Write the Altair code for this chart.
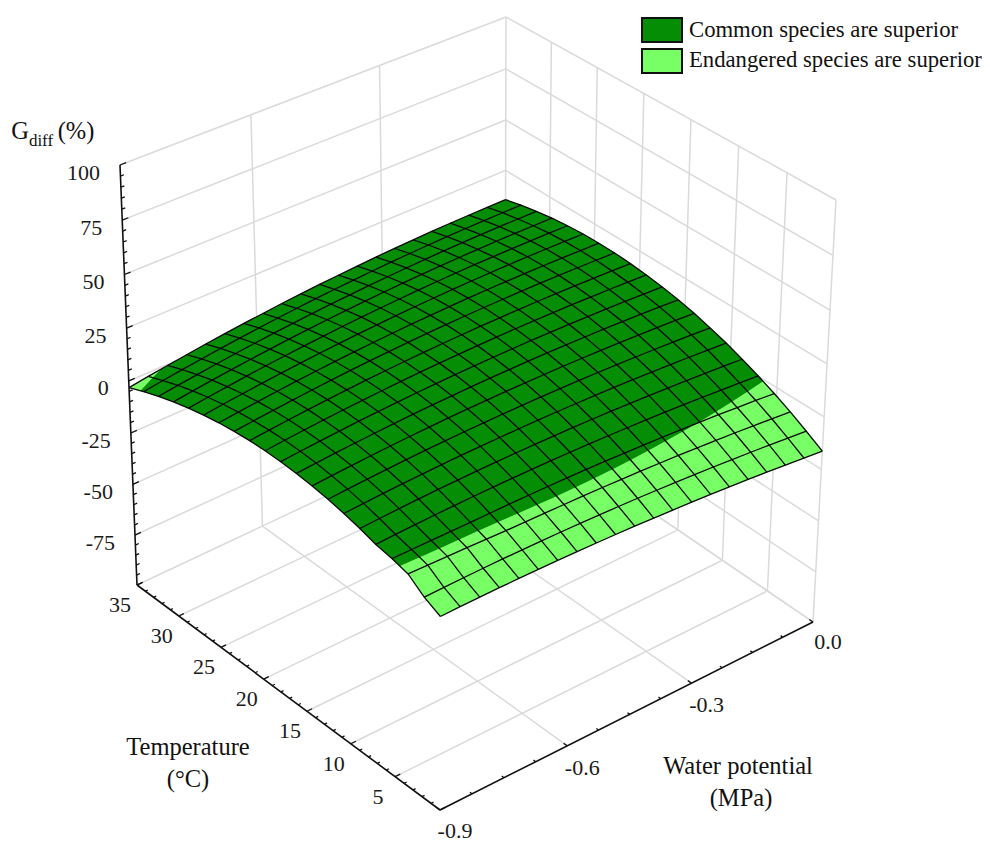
import altair as alt
import numpy as np
import pandas as pd

# ---- values -----------------------------------------------------------------
TEMPS = [35, 33.25, 31.5, 29.75, 28, 26.25, 24.5, 22.75, 21, 19.25, 17.5,
         15.75, 14, 12.25, 10.5, 8.75, 7, 5.25, 3.5, 1.75, 0]
POTENTIALS = [-0.9, -0.855, -0.81, -0.765, -0.72, -0.675, -0.63, -0.585, -0.54, -0.495, -0.45,
              -0.405, -0.36, -0.315, -0.27, -0.225, -0.18, -0.135, -0.09, -0.045, 0.0]
GDIFF = [
 [-6.2,-4.8,-3.5,-2.3,-1.1,0,1,1.9,2.8,3.6,4.3,4.9,5.5,6,6.4,6.7,7,7.2,7.3,7.3,7.3],
 [-3.3,-1.97,-.72,.46,1.57,2.6,3.56,4.45,5.26,6,6.67,7.26,7.78,8.23,8.6,8.9,9.13,9.28,9.36,9.37,9.3],
 [-.75,.52,1.72,2.85,3.9,4.89,5.8,6.63,7.39,8.08,8.7,9.24,9.71,10.11,10.43,10.68,10.86,10.97,11,10.96,10.85],
 [1.46,2.68,3.83,4.9,5.91,6.84,7.7,8.48,9.2,9.84,10.41,10.91,11.34,11.69,11.97,12.18,12.32,12.39,12.38,12.31,12.16],
 [3.32,4.49,5.59,6.61,7.57,8.45,9.26,10,10.67,11.27,11.79,12.25,12.63,12.94,13.18,13.35,13.44,13.47,13.42,13.31,13.12],
 [4.83,5.95,6.99,7.96,8.87,9.7,10.46,11.15,11.77,12.32,12.8,13.21,13.55,13.82,14.02,14.15,14.2,14.19,14.11,13.95,13.73],
 [6,7.06,8.05,8.97,9.82,10.6,11.31,11.95,12.52,13.02,13.45,13.81,14.1,14.32,14.47,14.55,14.56,14.5,14.37,14.17,13.9],
 [6.81,7.82,8.75,9.62,10.42,11.15,11.81,12.4,12.92,13.38,13.76,14.08,14.33,14.51,14.62,14.66,14.63,14.53,14.36,14.13,13.82],
 [7.28,8.23,9.11,9.93,10.67,11.35,11.96,12.5,12.97,13.37,13.71,13.97,14.17,14.3,14.36,14.35,14.28,14.13,13.92,13.64,13.29],
 [7.4,8.3,9.12,9.89,10.58,11.21,11.77,12.26,12.68,13.04,13.33,13.55,13.71,13.79,13.81,13.76,13.65,13.46,13.21,12.89,12.5],
 [7.18,8.02,8.8,9.51,10.16,10.73,11.24,11.69,12.06,12.37,12.62,12.79,12.9,12.95,12.92,12.83,12.68,12.45,12.16,11.8,11.38],
 [6.6,7.39,8.12,8.78,9.37,9.9,10.36,10.76,11.09,11.35,11.55,11.68,11.75,11.75,11.68,11.55,11.35,11.09,10.76,10.36,9.9],
 [5.68,6.42,7.09,7.7,8.24,8.72,9.13,9.48,9.76,9.98,10.13,10.22,10.24,10.2,10.09,9.92,9.68,9.38,9.01,8.58,8.08],
 [4.41,5.09,5.71,6.26,6.75,7.18,7.54,7.84,8.07,8.24,8.34,8.38,8.35,8.26,8.1,7.88,7.6,7.25,6.84,6.36,5.82],
 [2.8,3.43,3.99,4.49,4.93,5.31,5.62,5.87,6.05,6.17,6.23,6.22,6.15,6.02,5.82,5.56,5.24,4.85,4.4,3.88,3.3],
 [.83,1.4,1.91,2.36,2.75,3.07,3.33,3.52,3.65,3.72,3.73,3.67,3.55,3.37,3.12,2.81,2.44,2.01,1.51,.95,.33],
 [-1.48,-.96,-.5,-.11,.22,.49,.7,.85,.93,.96,.92,.82,.66,.43,.14,-.21,-.62,-1.09,-1.63,-2.22,-2.88],
 [-3,-2.9,-2.8,-2.7,-2.6,-2.41,-2.25,-2.15,-2.11,-2.13,-2.22,-2.36,-2.57,-2.84,-3.17,-3.56,-4.01,-4.53,-5.11,-5.74,-6.44],
 [-5,-5.05,-5.1,-5.2,-5.35,-5.45,-5.5,-5.52,-5.53,-5.6,-5.73,-5.92,-6.17,-6.48,-6.85,-7.29,-7.78,-8.33,-8.95,-9.62,-10.35],
 [-10.5,-10.14,-9.84,-9.6,-9.42,-9.3,-9.24,-9.24,-9.3,-9.42,-9.6,-9.84,-10.14,-10.5,-10.92,-11.4,-11.94,-12.54,-13.2,-13.92,-14.7],
 [-14.2,-13.89,-13.65,-13.46,-13.33,-13.26,-13.25,-13.3,-13.41,-13.57,-13.8,-14.08,-14.43,-14.83,-15.29,-15.81,-16.39,-17.03,-17.73,-18.48,-19.3],
]
READ_OFFSET = 3.0   # the values above were read against a straight z scale
CUT = -1.0          # level at which the surface colour changes, as drawn
KINDS = ["Common species are superior", "Endangered species are superior"]
COLORS = ["#058e05", "#78ff66"]

Z_TICKS = [100, 75, 50, 25, 0, -25, -50, -75]
T_TICKS = [35, 30, 25, 20, 15, 10, 5]
PSI_TICKS = [0.0, -0.3, -0.6, -0.9]
PSI_LABELS = ["0.0", "-0.3", "-0.6", "-0.9"]
PSI_LABEL_DROP = [20, 22, 22, 21]

# ---- view of the box: box corner -> picture position ------------------------
# order: (T=35,psi=-.9), (T=0,psi=-.9), (T=0,psi=0), (T=35,psi=0)
FLOOR = [(137, 585), (440, 810), (813, 622), (505, 412)]
CEILING = [(120, 165), (441, 360), (836, 200), (506, 17)]
DEPTH = 0.945


def homography(dst):
    src = [(0, 0), (1, 0), (1, 1), (0, 1)]      # (a, b): a = 1-T/35, b = (psi+.9)/.9
    A, B = [], []
    for (a, b), (x, y) in zip(src, dst):
        A.append([a, b, 1, 0, 0, 0, -a * x, -b * x])
        A.append([0, 0, 0, a, b, 1, -a * y, -b * y])
        B += [x, y]
    return np.append(np.linalg.solve(np.array(A, float), np.array(B, float)), 1.0).reshape(3, 3)


H0, H1 = homography(FLOOR), homography(CEILING)


def proj(T, psi, z):
    v = np.array([1 - T / 35, (psi + .9) / .9, 1.0])
    p0, p1 = H0 @ v, H1 @ v
    p0, p1 = p0[:2] / p0[2], p1[:2] / p1[2]
    w = (z + 100) / 200
    f = w * DEPTH / (1 + w * (DEPTH - 1))
    q = p0 + (p1 - p0) * f
    return float(q[0]), float(q[1])


# ---- surface --------------------------------------------------------------
def clip(poly, keep_above):
    out = []
    for a, b in zip(poly, poly[1:] + poly[:1]):
        ina = (a[2] >= CUT) == keep_above
        inb = (b[2] >= CUT) == keep_above
        if ina:
            out.append(a)
        if ina != inb:
            f = (CUT - a[2]) / (b[2] - a[2])
            out.append(tuple(a[k] + f * (b[k] - a[k]) for k in range(3)))
    return out


cells = []
cid = 0
for i in range(len(TEMPS) - 1):
    for j in range(len(POTENTIALS) - 1):
        quad = [(TEMPS[a], POTENTIALS[b], GDIFF[a][b] + READ_OFFSET)
                for a, b in ((i, j), (i + 1, j), (i + 1, j + 1), (i, j + 1))]
        for kind, above in zip(KINDS, (True, False)):
            poly = clip(quad, above)
            if len(poly) < 3:
                continue
            cid += 1
            for n, v in enumerate(poly):
                x, y = proj(*v)
                cells.append(dict(cell=cid, o=n, x=x, y=y, kind=kind))
cells = pd.DataFrame(cells)

mesh = []
for i, T in enumerate(TEMPS):
    for j, p in enumerate(POTENTIALS):
        x, y = proj(T, p, GDIFF[i][j] + READ_OFFSET)
        mesh.append(dict(line=f"t{i}", o=j, x=x, y=y))
        mesh.append(dict(line=f"p{j}", o=i, x=x, y=y))
mesh = pd.DataFrame(mesh)


# ---- box grid, axes, ticks ---------------------------------------------------
def seg(a, b):
    (x, y), (x2, y2) = proj(*a), proj(*b)
    return dict(x=x, y=y, x2=x2, y2=y2)


grid = []
for z in range(-100, 101, 25):
    grid.append(seg((35, -.9, z), (35, 0, z)))
    grid.append(seg((35, 0, z), (0, 0, z)))
for p in (-.6, -.3, 0):
    grid.append(seg((35, p, -100), (35, p, 100)))
    grid.append(seg((35, p, -100), (0, p, -100)))
for T in (30, 25, 20, 15, 10, 5, 0):
    grid.append(seg((T, 0, -100), (T, 0, 100)))
for T in (30, 25, 20, 15, 10, 5):
    grid.append(seg((T, -.9, -100), (T, 0, -100)))
grid = pd.DataFrame(grid)

axes = pd.DataFrame([seg((35, -.9, -100), (35, -.9, 100)),
                     seg((35, -.9, -100), (0, -.9, -100)),
                     seg((0, -.9, -100), (0, 0, -100))])

ticks = []
for k in range(41):
    z = -100 + 5 * k
    ticks.append(seg((35, -.9, z), (35, -.9 + (.014 if z % 25 == 0 else .008), z)))
for T in range(0, 36):
    ticks.append(seg((T, -.9, -100), (T, -.9 + (.012 if T % 5 == 0 else .006), -100)))
for k in range(13):
    p = -.9 + .075 * k
    ticks.append(seg((0, p, -100), (.4 if k % 4 == 0 else .25, p, -100)))
ticks = pd.DataFrame(ticks)

labels = []
for z in Z_TICKS:
    x, y = proj(35, -.9, z)
    labels.append(dict(x=x - 20, y=y + 7.5, t=str(z), a="right"))
for T in T_TICKS:
    x, y = proj(T, -.9, -100)
    labels.append(dict(x=x - 17, y=y + 20, t=str(T), a="center"))
for p, s, d in zip(PSI_TICKS, PSI_LABELS, PSI_LABEL_DROP):
    x, y = proj(0, p, -100)
    labels.append(dict(x=x + 15, y=y + d, t=s, a="center"))
labels = pd.DataFrame(labels)

titles = pd.DataFrame([
    dict(x=188, y=748, t="Temperature"), dict(x=188, y=780, t="(°C)"),
    dict(x=738, y=767, t="Water potential"), dict(x=741, y=799, t="(MPa)"),
    dict(x=20, y=132, t="G"), dict(x=76, y=132, t="(%)"),
])
sub = pd.DataFrame([dict(x=41, y=141, t="diff")])
legend_boxes = pd.DataFrame([
    dict(x=642, x2=682, y=18, y2=42, kind=KINDS[0]),
    dict(x=642, x2=682, y=49, y2=73, kind=KINDS[1]),
])
legend_text = pd.DataFrame([dict(x=689, y=30, t=KINDS[0]), dict(x=689, y=60, t=KINDS[1])])

# ---- chart ----------------------------------------------------------------
X = alt.X("x:Q", axis=None, scale=alt.Scale(domain=[8, 982], nice=False, zero=False))
Y = alt.Y("y:Q", axis=None, scale=alt.Scale(domain=[843, 8], nice=False, zero=False))
FONT = "Liberation Serif"
cscale = alt.Scale(domain=KINDS, range=COLORS)

grid_l = alt.Chart(grid).mark_rule(color="#dadada", strokeWidth=1.5).encode(x=X, y=Y, x2="x2:Q", y2="y2:Q")

surface = alt.Chart(cells).mark_line(interpolate="linear-closed", strokeWidth=0.4).encode(
    x=X, y=Y, detail="cell:N", order="o:Q",
    fill=alt.Fill("kind:N", scale=cscale, legend=None),
    stroke=alt.Stroke("kind:N", scale=cscale, legend=None),
)
mesh_l = alt.Chart(mesh).mark_line(color="#0a0a0a", strokeWidth=1.3).encode(
    x=X, y=Y, detail="line:N", order="o:Q")
axes_l = alt.Chart(axes).mark_rule(color="#111111", strokeWidth=1.6).encode(x=X, y=Y, x2="x2:Q", y2="y2:Q")
ticks_l = alt.Chart(ticks).mark_rule(color="#111111", strokeWidth=1.3).encode(x=X, y=Y, x2="x2:Q", y2="y2:Q")
right = alt.Chart(labels[labels.a == "right"]).mark_text(
    font=FONT, fontSize=22, color="#1a1a1a", align="right", baseline="middle").encode(x=X, y=Y, text="t:N")
center = alt.Chart(labels[labels.a == "center"]).mark_text(
    font=FONT, fontSize=22, color="#1a1a1a", align="center", baseline="middle").encode(x=X, y=Y, text="t:N")
title_l = alt.Chart(titles).mark_text(
    font=FONT, fontSize=24.5, color="#111111", align="center", baseline="middle").encode(x=X, y=Y, text="t:N")
sub_l = alt.Chart(sub).mark_text(
    font=FONT, fontSize=17, color="#111111", align="center", baseline="middle").encode(x=X, y=Y, text="t:N")
leg_box = alt.Chart(legend_boxes).mark_rect(stroke="#111111", strokeWidth=2).encode(
    x=X, x2="x2:Q", y=Y, y2="y2:Q", fill=alt.Fill("kind:N", scale=cscale, legend=None))
leg_text = alt.Chart(legend_text).mark_text(
    font=FONT, fontSize=22.7, color="#111111", align="left", baseline="middle").encode(x=X, y=Y, text="t:N")

chart = alt.layer(grid_l, surface, mesh_l, axes_l, ticks_l, right, center, title_l, sub_l,
                  leg_box, leg_text).properties(
    width=974, height=835, padding=0, autosize=alt.AutoSizeParams(type="none"),
    background="white",
).configure_view(stroke=None)

chart.save("out.html", embed_options={"renderer": "svg", "actions": False})
